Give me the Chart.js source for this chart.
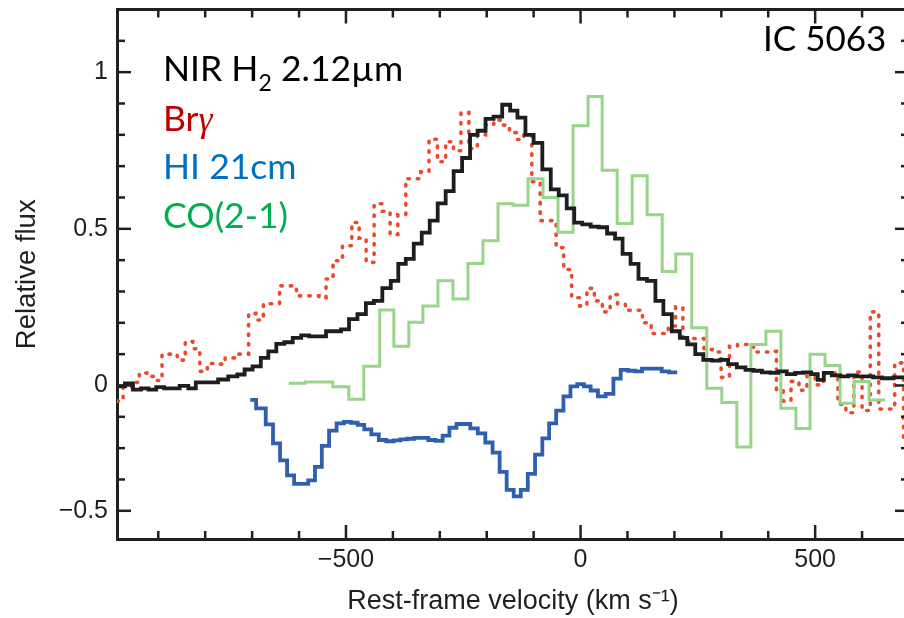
<!DOCTYPE html>
<html><head><meta charset="utf-8">
<script src="https://cdn.jsdelivr.net/npm/chart.js@4.4.1/dist/chart.umd.min.js"></script>
<style>
html,body{margin:0;padding:0;background:#fff;overflow:hidden;}
#wrap{position:relative;width:912px;height:618px;}
canvas{position:absolute;left:0;top:0;}
.lbl{position:absolute;font-family:Lato,"Open Sans",sans-serif;font-size:35.5px;line-height:35px;white-space:nowrap;}
.sub{font-size:23px;position:relative;top:10px;}
.gam{font-family:"Liberation Serif",serif;font-style:italic;}
</style></head>
<body><div id="wrap">
<canvas id="c" width="912" height="618"></canvas>
<div class="lbl" style="left:163px;top:50px;color:#000">NIR H<span class="sub">2</span> 2.12µm</div>
<div class="lbl" style="left:163px;top:100px;color:#C00000">Br<span class="gam">γ</span></div>
<div class="lbl" style="left:163px;top:148px;color:#0070C0">HI 21cm</div>
<div class="lbl" style="left:163px;top:197px;color:#00B050">CO(2-1)</div>
<div class="lbl" style="left:763px;top:20px;color:#000;font-size:35px">IC 5063</div>
</div>
<script>
// ---- data (velocity in km/s, relative flux) ----
const h2Velocity = [-988,-979,-963,-945,-929,-913,-896,-879,-864,-845,-827,-813,-800,-783,-762,-740,-723,-709,-689,-674,-657,-640,-623,-604,-587,-570,-551,-534,-519,-502,-485,-466,-449,-432,-413,-396,-381,-364,-347,-330,-313,-296,-279,-262,-243,-228,-211,-194,-177,-157,-143,-126,-109,-91,-72,-55,-38,-21,-6,13,30,47,66,81,98,115,132,151,168,185,204,219,236,253,270,289,306,323,343,360,377,396,413,430,449,466,483,500,511,526,545,562,579,598,615,632,653,681,700];
const h2Flux = [-0.003,-0.003,0.007,-0.013,-0.009,-0.013,-0.005,-0.009,-0.009,-0.001,-0.009,0.01,0.01,0.01,0.019,0.029,0.035,0.051,0.061,0.088,0.109,0.133,0.138,0.152,0.16,0.157,0.157,0.173,0.173,0.179,0.212,0.228,0.263,0.27,0.311,0.334,0.388,0.404,0.453,0.488,0.526,0.581,0.62,0.684,0.726,0.80,0.813,0.851,0.858,0.896,0.877,0.855,0.80,0.774,0.69,0.626,0.607,0.565,0.52,0.514,0.507,0.505,0.485,0.469,0.42,0.388,0.34,0.334,0.27,0.228,0.173,0.152,0.131,0.10,0.082,0.079,0.082,0.068,0.058,0.05,0.047,0.042,0.04,0.045,0.036,0.04,0.042,0.036,0.018,0.04,0.032,0.029,0.032,0.029,0.029,0.026,0.023,0.026,0.026];

const brgVelocity = [-988,-962,-947,-934,-915,-899,-885,-868,-851,-834,-819,-804,-787,-770,-745,-728,-715,-700,-684,-668,-651,-632,-615,-596,-579,-566,-549,-536,-519,-496,-479,-465,-449,-431,-414,-398,-381,-364,-349,-332,-314,-296,-279,-263,-247,-229,-211,-194,-176,-159,-144,-129,-113,-95,-77,-60,-44,-28,-10,6,21,38,55,71,87,104,123,141,160,179,195,210,226,243,255,271,290,309,326,343,360,377,394,411,424,440,457,474,491,509,526,540,557,574,591,609,626,645,662,677,700];
const brgFlux = [-0.05,-0.006,0.01,0.04,0.029,0.016,0.10,0.10,0.081,0.14,0.117,0.045,0.07,0.068,0.088,0.10,0.10,0.23,0.209,0.261,0.261,0.318,0.318,0.286,0.286,0.286,0.28,0.34,0.398,0.446,0.52,0.47,0.393,0.58,0.556,0.482,0.545,0.66,0.66,0.682,0.786,0.714,0.778,0.749,0.871,0.756,0.80,0.831,0.847,0.831,0.807,0.785,0.80,0.65,0.526,0.526,0.44,0.37,0.28,0.254,0.31,0.27,0.235,0.29,0.26,0.24,0.24,0.20,0.166,0.166,0.19,0.25,0.14,0.15,0.15,0.115,0.107,0.026,0.125,0.131,0.131,0.107,0.107,0.109,-0.015,-0.05,0.013,-0.015,0.029,0.002,0.04,0.04,-0.06,-0.087,0.043,-0.08,0.235,-0.075,-0.075,0.072,-0.18];

const hiVelocity = [-704,-679,-663,-648,-633,-618,-603,-588,-573,-559,-544,-528,-512,-497,-482,-468,-454,-438,-422,-406,-391,-377,-362,-347,-332,-317,-301,-287,-272,-257,-243,-227,-211,-195,-180,-165,-150,-135,-120,-105,-89,-74,-60,-44,-29,-14,0,14,29,45,62,78,93,109,124,138,153,166,180,197,206];
const hiFlux = [-0.046,-0.073,-0.124,-0.185,-0.239,-0.287,-0.314,-0.314,-0.303,-0.26,-0.193,-0.144,-0.121,-0.116,-0.119,-0.126,-0.14,-0.156,-0.174,-0.178,-0.175,-0.172,-0.17,-0.167,-0.167,-0.174,-0.177,-0.16,-0.135,-0.123,-0.123,-0.137,-0.153,-0.182,-0.214,-0.276,-0.333,-0.354,-0.333,-0.282,-0.221,-0.169,-0.121,-0.08,-0.035,-0.003,0.004,-0.003,-0.016,-0.035,-0.027,0.022,0.05,0.047,0.045,0.054,0.054,0.054,0.045,0.042,0.042];

// CO(2-1): bin left edges (last entry = right edge of final bin)
const coBinEdges = [-622,-587,-558,-528,-494,-462,-428,-398,-366,-336,-304,-272,-240,-208,-176,-144,-112,-80,-48,-16,16,46,78,110,142,174,203,237,269,301,333,363,395,427,459,489,521,553,583,615,649];
const coFlux = [0.007,0.011,0.011,-0.004,-0.044,0.061,0.241,0.125,0.202,0.254,0.334,0.276,0.389,0.462,0.58,0.575,0.66,0.60,0.489,0.829,0.922,0.687,0.517,0.669,0.545,0.364,0.42,0.184,-0.009,-0.054,-0.196,0.131,0.173,-0.073,-0.137,0.10,0.064,-0.057,0.013,-0.046,-0.046];

// ---- axes ----
const xMin = -988, xMax = 700, xStep = 100;
const xTickLabels = [[-500,'\u2212500'],[0,'0'],[500,'500']];
const yMin = -0.49, yMax = 1.2, yStep = 0.1;
const yTickLabels = [[1,'1'],[0.5,'0.5'],[0,'0'],[-0.4,'\u22120.5']];

const pts = (xs, ys) => xs.map((x, i) => ({x, y: ys[i]}));
const near = (a, b) => Math.abs(a - b) < 1e-6;
const labelFor = (list, v) => { const f = list.find(p => near(p[0], v)); return f ? f[1] : ''; };
const onStep = (v, s) => near(v / s, Math.round(v / s));

const INK = '#231F20';
const inwardTicks = {
  id: 'inwardTicks',
  afterDraw(chart) {
    const {ctx, chartArea: a, scales} = chart;
    ctx.save();
    ctx.strokeStyle = INK; ctx.lineWidth = 2.5;
    const seg = (x1, y1, x2, y2) => { ctx.beginPath(); ctx.moveTo(x1, y1); ctx.lineTo(x2, y2); ctx.stroke(); };
    scales.x.ticks.forEach(t => {
      if (!onStep(t.value, xStep)) return;
      const p = scales.x.getPixelForValue(t.value);
      const len = labelFor(xTickLabels, t.value) ? 14 : 8;
      seg(p, a.bottom, p, a.bottom - len);
      seg(p, a.top, p, a.top + len);
    });
    scales.y.ticks.forEach(t => {
      if (!onStep(t.value, yStep)) return;
      const p = scales.y.getPixelForValue(t.value);
      const len = labelFor(yTickLabels, t.value) ? 14 : 8;
      seg(a.left, p, a.left + len, p);
      seg(a.right, p, a.right - len, p);
    });
    ctx.restore();
  }
};

const fixSize = (w, h) => s => {
  if (w !== null) s.width = w;
  if (h !== null) s.height = h;
  s.paddingTop = 0; s.paddingBottom = 0; s.paddingLeft = 0; s.paddingRight = 0;
};

Chart.defaults.font.family = '"Liberation Sans", Arial, sans-serif';
Chart.defaults.color = INK;

const borderOpt = {display: true, color: INK, width: 3};
const noGrid = {display: false, drawTicks: false};
new Chart(document.getElementById('c'), {
  type: 'line',
  data: {
    datasets: [
      {label: 'NIR H2 2.12µm', data: pts(h2Velocity, h2Flux), stepped: 'middle', borderColor: '#1E1E1E', borderWidth: 3.8, pointRadius: 0, order: 1},
      {label: 'HI 21cm', data: pts(hiVelocity, hiFlux), stepped: 'middle', borderColor: '#2F5FAE', borderWidth: 3.8, pointRadius: 0, order: 2},
      {label: 'CO(2-1)', data: pts(coBinEdges, coFlux), stepped: 'before', borderColor: '#98D48A', borderWidth: 3, pointRadius: 0, order: 3},
      {label: 'Brγ', data: pts(brgVelocity, brgFlux), stepped: 'middle', borderColor: '#EC4A2C', borderWidth: 3.6, borderDash: [1.5, 8], borderCapStyle: 'round', pointRadius: 0, order: 4}
    ]
  },
  options: {
    responsive: false, animation: false, devicePixelRatio: 1,
    layout: {padding: 0},
    plugins: {legend: {display: false}, tooltip: {enabled: false}},
    scales: {
      x: {type: 'linear', position: 'bottom', min: xMin, max: xMax,
        grid: noGrid, border: borderOpt,
        ticks: {stepSize: xStep, includeBounds: false, autoSkip: false, maxRotation: 0, padding: 6, font: {size: 25}, color: INK,
          callback: v => labelFor(xTickLabels, v)},
        title: {display: true, text: 'Rest-frame velocity (km s\u207B\u00B9)', font: {size: 27}, color: INK, padding: 0},
        afterFit: fixSize(null, 79)},
      x2: {type: 'linear', position: 'top', min: xMin, max: xMax,
        grid: noGrid, border: borderOpt, ticks: {display: false},
        afterFit: fixSize(null, 9.5)},
      y: {type: 'linear', position: 'left', min: yMin, max: yMax,
        grid: noGrid, border: borderOpt,
        ticks: {stepSize: yStep, includeBounds: false, autoSkip: false, padding: 9, font: {size: 25}, color: INK,
          callback: v => labelFor(yTickLabels, v)},
        title: {display: true, text: 'Relative flux', font: {size: 27.5}, color: INK, padding: {top: 11, bottom: 0}},
        afterFit: fixSize(117, null)},
      y2: {type: 'linear', position: 'right', min: yMin, max: yMax,
        grid: noGrid, border: borderOpt, ticks: {display: false},
        afterFit: fixSize(3, null)}
    }
  },
  plugins: [inwardTicks]
});
</script>
</body></html>
